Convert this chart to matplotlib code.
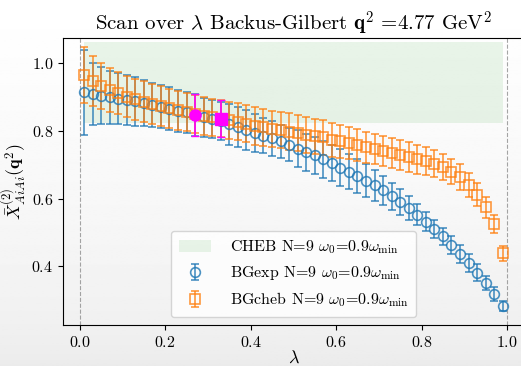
import numpy as np
import matplotlib
matplotlib.use("Agg")
import matplotlib.pyplot as plt

plt.rcParams['font.family'] = 'serif'
plt.rcParams['font.serif'] = ['cmr10']
plt.rcParams['mathtext.fontset'] = 'cm'
plt.rcParams['axes.formatter.use_mathtext'] = True
plt.rcParams['axes.unicode_minus'] = False

lam = np.round(np.arange(0.01, 1.0, 0.02), 2)

bgexp_val = [0.915, 0.909, 0.905, 0.900, 0.896, 0.892, 0.888, 0.883, 0.877, 0.872,
             0.866, 0.860, 0.855, 0.847, 0.840, 0.835, 0.830, 0.820, 0.811, 0.803,
             0.794, 0.786, 0.778, 0.769, 0.760, 0.748, 0.737, 0.728, 0.716, 0.705,
             0.692, 0.679, 0.667, 0.653, 0.639, 0.624, 0.607, 0.590, 0.572, 0.552,
             0.532, 0.511, 0.488, 0.462, 0.436, 0.409, 0.381, 0.350, 0.318, 0.283]
bgexp_err = [0.126, 0.091, 0.084, 0.079, 0.076, 0.074, 0.072, 0.069, 0.066, 0.064,
             0.063, 0.062, 0.061, 0.063, 0.058, 0.056, 0.056, 0.060, 0.059, 0.059,
             0.055, 0.052, 0.053, 0.049, 0.050, 0.054, 0.055, 0.055, 0.055, 0.054,
             0.054, 0.052, 0.050, 0.048, 0.046, 0.043, 0.040, 0.038, 0.035, 0.031,
             0.028, 0.027, 0.026, 0.027, 0.027, 0.027, 0.025, 0.021, 0.020, 0.015]

bgcheb_val = [0.966, 0.948, 0.934, 0.922, 0.912, 0.902, 0.894, 0.887, 0.880, 0.874,
              0.867, 0.861, 0.856, 0.851, 0.845, 0.841, 0.836, 0.832, 0.827, 0.821,
              0.815, 0.811, 0.806, 0.803, 0.798, 0.794, 0.788, 0.784, 0.781, 0.774,
              0.769, 0.764, 0.759, 0.752, 0.746, 0.741, 0.736, 0.729, 0.724, 0.717,
              0.711, 0.703, 0.693, 0.680, 0.663, 0.641, 0.611, 0.574, 0.524, 0.438]
bgcheb_err = [0.084, 0.073, 0.068, 0.065, 0.063, 0.062, 0.061, 0.060, 0.059, 0.058,
              0.058, 0.057, 0.057, 0.056, 0.056, 0.055, 0.055, 0.055, 0.055, 0.055,
              0.055, 0.055, 0.054, 0.054, 0.054, 0.054, 0.053, 0.052, 0.051, 0.050,
              0.049, 0.048, 0.047, 0.046, 0.045, 0.045, 0.044, 0.044, 0.044, 0.043,
              0.042, 0.040, 0.038, 0.037, 0.039, 0.035, 0.034, 0.032, 0.027, 0.022]

cheb_lo, cheb_hi = 0.825, 1.063
sel_exp_idx = 13
sel_cheb_idx = 16

fig = plt.figure(figsize=(5.21, 3.66), dpi=100)

# subtle background shading (white at top, light grey at bottom)
bg = fig.add_axes([0, 0, 1, 1], zorder=-10)
grad = np.linspace(0.92, 1.0, 256).reshape(-1, 1)
grad = np.clip((grad - 0.92) / 0.08, 0, 1) ** 0.6 * 0.08 + 0.92
bg.imshow(grad, cmap='gray', vmin=0, vmax=1, aspect='auto', origin='lower',
          extent=[0, 1, 0, 1])
bg.set_axis_off()

ax = fig.add_axes([0.121, 0.112, 0.885, 0.784])
ax.set_facecolor('none')

ax.fill_between([lam[0], lam[-1]], cheb_lo, cheb_hi, color='tab:green', alpha=0.1,
                linewidth=0, label=r'CHEB N=9 $\omega_0$=0.9$\omega_{\rm min}$')
ax.errorbar(lam, bgexp_val, yerr=bgexp_err, fmt='o', color='tab:blue', mfc='none',
            ms=7, mew=1.2, elinewidth=1.2, capsize=3, alpha=0.8,
            label=r'BGexp N=9 $\omega_0$=0.9$\omega_{\rm min}$')
ax.errorbar(lam, bgcheb_val, yerr=bgcheb_err, fmt='s', color='tab:orange', mfc='none',
            ms=7, mew=1.2, elinewidth=1.2, capsize=3, alpha=0.8,
            label=r'BGcheb N=9 $\omega_0$=0.9$\omega_{\rm min}$')
ax.errorbar([lam[sel_exp_idx]], [bgexp_val[sel_exp_idx]], yerr=[bgexp_err[sel_exp_idx]],
            fmt='o', color='magenta', ms=8, elinewidth=1.2, capsize=3)
ax.errorbar([lam[sel_cheb_idx]], [bgcheb_val[sel_cheb_idx]], yerr=[bgcheb_err[sel_cheb_idx]],
            fmt='s', color='magenta', ms=8, elinewidth=1.2, capsize=3)

ax.axvline(0, color='grey', ls='--', lw=0.8, alpha=0.7)
ax.axvline(1, color='grey', ls='--', lw=0.8, alpha=0.7)

ax.set_xlim(-0.039, 1.04)
ax.set_ylim(0.226, 1.075)
ax.set_xticks([0.0, 0.2, 0.4, 0.6, 0.8, 1.0])
ax.set_yticks([0.4, 0.6, 0.8, 1.0])
ax.tick_params(labelsize=11.5)
ax.set_xlabel(r'$\lambda$', fontsize=13, labelpad=0)
ax.set_ylabel(r'$\bar{X}^{(2)}_{AiAi}(\mathbf{q}^2)$', fontsize=13, labelpad=2)
ax.set_title(r'Scan over $\lambda$ Backus-Gilbert $\mathbf{q}^2$ =4.77 GeV$^2$', fontsize=15, pad=5)
ax.legend(loc='lower center', fontsize=11.5, bbox_to_anchor=(0.5, 0.0),
          handletextpad=1.2, borderpad=0.5)

fig.savefig('out.png', dpi=100)
